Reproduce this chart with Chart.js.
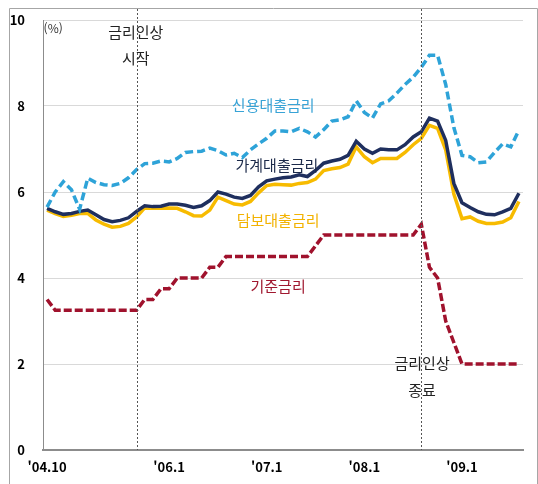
<!DOCTYPE html>
<html lang="ko">
<head>
<meta charset="utf-8">
<title>금리 추이</title>
<script src="https://cdn.jsdelivr.net/npm/chart.js@4.4.1/dist/chart.umd.min.js"></script>
<style>
  html, body { margin: 0; padding: 0; background: #fff; }
  #wrap { width: 538px; height: 484px; }
</style>
</head>
<body>
<div id="wrap"><canvas id="rateChart" width="538" height="484"></canvas></div>
<script>
// 월별 카테고리 ('04.10 ~ '09.8)
const months = [
    "'04.10", "'04.11", "'04.12",
    "'05.1", "'05.2", "'05.3", "'05.4", "'05.5", "'05.6", "'05.7", "'05.8", "'05.9", "'05.10", "'05.11", "'05.12",
    "'06.1", "'06.2", "'06.3", "'06.4", "'06.5", "'06.6", "'06.7", "'06.8", "'06.9", "'06.10", "'06.11", "'06.12",
    "'07.1", "'07.2", "'07.3", "'07.4", "'07.5", "'07.6", "'07.7", "'07.8", "'07.9", "'07.10", "'07.11", "'07.12",
    "'08.1", "'08.2", "'08.3", "'08.4", "'08.5", "'08.6", "'08.7", "'08.8", "'08.9", "'08.10", "'08.11", "'08.12",
    "'09.1", "'09.2", "'09.3", "'09.4", "'09.5", "'09.6", "'09.7", "'09.8"
];
const tickLabels = ["'04.10", "'06.1", "'07.1", "'08.1", "'09.1"];

// 신용대출금리
const creditRate = [
    5.65, 6.0, 6.24, 6.05, 5.6, 6.32, 6.22, 6.17, 6.15, 6.2,
    6.33, 6.52, 6.66, 6.67, 6.72, 6.7, 6.78, 6.92, 6.94, 6.95,
    7.02, 6.96, 6.86, 6.9, 6.8, 6.98, 7.12, 7.25, 7.42, 7.42,
    7.4, 7.48, 7.4, 7.28, 7.45, 7.65, 7.68, 7.75, 8.12, 7.85,
    7.72, 8.05, 8.12, 8.3, 8.5, 8.67, 8.9, 9.18, 9.18, 8.5,
    7.5, 6.85, 6.82, 6.68, 6.7, 6.92, 7.12, 7.05, 7.44
];
// 가계대출금리
const householdRate = [
    5.62, 5.54, 5.48, 5.5, 5.55, 5.58, 5.47, 5.36, 5.31, 5.34,
    5.4, 5.55, 5.68, 5.66, 5.67, 5.72, 5.72, 5.69, 5.64, 5.68,
    5.8, 6.0, 5.95, 5.88, 5.85, 5.92, 6.12, 6.26, 6.3, 6.33,
    6.35, 6.4, 6.36, 6.5, 6.67, 6.72, 6.76, 6.85, 7.18, 7.0,
    6.9, 7.0, 6.98, 6.98, 7.1, 7.28, 7.4, 7.72, 7.65, 7.2,
    6.2, 5.75, 5.64, 5.54, 5.48, 5.47, 5.54, 5.62, 5.97
];
// 담보대출금리
const mortgageRate = [
    5.58, 5.5, 5.43, 5.46, 5.5, 5.5, 5.35, 5.25, 5.18, 5.2,
    5.27, 5.42, 5.63, 5.62, 5.62, 5.63, 5.62, 5.54, 5.45, 5.44,
    5.58, 5.88, 5.8, 5.72, 5.7, 5.78, 5.98, 6.15, 6.18, 6.17,
    6.16, 6.2, 6.22, 6.3, 6.5, 6.54, 6.57, 6.65, 7.05, 6.82,
    6.68, 6.78, 6.78, 6.78, 6.92, 7.1, 7.25, 7.55, 7.48, 6.98,
    5.95, 5.38, 5.42, 5.32, 5.27, 5.27, 5.3, 5.4, 5.78
];
// 기준금리
const baseRate = [
    3.5, 3.25, 3.25, 3.25, 3.25, 3.25, 3.25, 3.25, 3.25, 3.25,
    3.25, 3.25, 3.5, 3.5, 3.75, 3.75, 4.0, 4.0, 4.0, 4.0,
    4.25, 4.25, 4.5, 4.5, 4.5, 4.5, 4.5, 4.5, 4.5, 4.5,
    4.5, 4.5, 4.5, 4.75, 5.0, 5.0, 5.0, 5.0, 5.0, 5.0,
    5.0, 5.0, 5.0, 5.0, 5.0, 5.0, 5.25, 4.25, 4.0, 3.0,
    2.5, 2.0, 2.0, 2.0, 2.0, 2.0, 2.0, 2.0, 2.0
];

// 금리인상 시작 / 종료 시점
const markerMonths = ["'05.9", "'08.8"];

const COLORS = {
    credit: '#2ea3d8',
    household: '#1f2f5e',
    mortgage: '#f7bb00',
    base: '#a0122d'
};
const KR_FONT = '"Noto Sans CJK KR", "Noto Sans", sans-serif';

// 차트 위 텍스트 (x: 카테고리 인덱스, y: 값)
const notes = [
    { text: '(%)', x: 0.75, y: 9.8, color: '#333', size: 12 },
    { text: '금리인상', x: 10.9, y: 9.72, color: '#222', size: 15 },
    { text: '시작', x: 10.9, y: 9.1, color: '#222', size: 15 },
    { text: '금리인상', x: 46.1, y: 2.02, color: '#222', size: 15 },
    { text: '종료', x: 46.1, y: 1.38, color: '#222', size: 15 },
    { text: '신용대출금리', x: 27.8, y: 8.02, color: '#38a3d6', size: 15 },
    { text: '가계대출금리', x: 28.25, y: 6.62, color: '#1c2a4a', size: 15 },
    { text: '담보대출금리', x: 28.4, y: 5.35, color: '#f2b200', size: 15 },
    { text: '기준금리', x: 28.4, y: 3.8, color: '#a0182f', size: 15 }
];

const overlayPlugin = {
    id: 'overlay',
    beforeDraw(chart) {
        const ctx = chart.ctx;
        ctx.save();
        ctx.strokeStyle = '#a6a6a6';
        ctx.lineWidth = 1;
        ctx.beginPath();
        ctx.moveTo(9.5, chart.height + 5);
        ctx.lineTo(9.5, 8.5);
        ctx.lineTo(537.5, 8.5);
        ctx.lineTo(537.5, chart.height + 5);
        ctx.stroke();
        ctx.restore();
    },
    afterDatasetsDraw(chart) {
        const { ctx, chartArea, scales: { x, y } } = chart;
        ctx.save();
        ctx.strokeStyle = '#555';
        ctx.lineWidth = 1;
        ctx.setLineDash([2, 2]);
        markerMonths.forEach(m => {
            const px = Math.round(x.getPixelForValue(months.indexOf(m))) + 0.5;
            ctx.beginPath();
            ctx.moveTo(px, 9);
            ctx.lineTo(px, chartArea.bottom);
            ctx.stroke();
        });
        ctx.setLineDash([]);
        ctx.textAlign = 'center';
        ctx.textBaseline = 'middle';
        notes.forEach(n => {
            ctx.font = n.size + 'px ' + KR_FONT;
            ctx.fillStyle = n.color;
            ctx.fillText(n.text, x.getPixelForValue(n.x), y.getPixelForValue(n.y));
        });
        ctx.restore();
    }
};

function lineSet(label, data, color, dash) {
    return {
        label: label,
        data: data,
        borderColor: color,
        backgroundColor: color,
        borderWidth: 3.5,
        borderDash: dash,
        pointRadius: 0,
        tension: 0,
        fill: false
    };
}

new Chart(document.getElementById('rateChart'), {
    type: 'line',
    data: {
        labels: months,
        datasets: [
            lineSet('신용대출금리', creditRate, COLORS.credit, [8, 4]),
            lineSet('가계대출금리', householdRate, COLORS.household, []),
            lineSet('담보대출금리', mortgageRate, COLORS.mortgage, []),
            lineSet('기준금리', baseRate, COLORS.base, [8, 3])
        ]
    },
    options: {
        responsive: false,
        animation: false,
        layout: { padding: { left: 0, top: 20, right: 15, bottom: 0 } },
        plugins: {
            legend: { display: false },
            tooltip: { enabled: false }
        },
        scales: {
            x: {
                offset: true,
                grid: { display: false, drawTicks: false },
                border: { display: true, color: '#8c8c8c', width: 2 },
                ticks: {
                    autoSkip: false,
                    maxRotation: 0,
                    padding: 9,
                    color: '#000',
                    font: { family: KR_FONT, size: 13, weight: 'bold' },
                    callback: function (val) {
                        const lab = months[val];
                        return tickLabels.includes(lab) ? lab : '';
                    }
                },
                afterFit(scale) { scale.height = 34; }
            },
            y: {
                min: 0,
                max: 10,
                // 눈금 표시는 투명하게 두고 라벨 간격만 확보
                grid: { color: '#d9d9d9', drawTicks: true, tickLength: 16, tickColor: 'rgba(0,0,0,0)' },
                border: { display: true, color: '#8c8c8c', width: 1 },
                ticks: {
                    stepSize: 2,
                    padding: 2,
                    color: '#000',
                    font: { family: KR_FONT, size: 13, weight: 'bold' }
                },
                afterFit(scale) { scale.width = 43; }
            }
        }
    },
    plugins: [overlayPlugin]
});
</script>
</body>
</html>
